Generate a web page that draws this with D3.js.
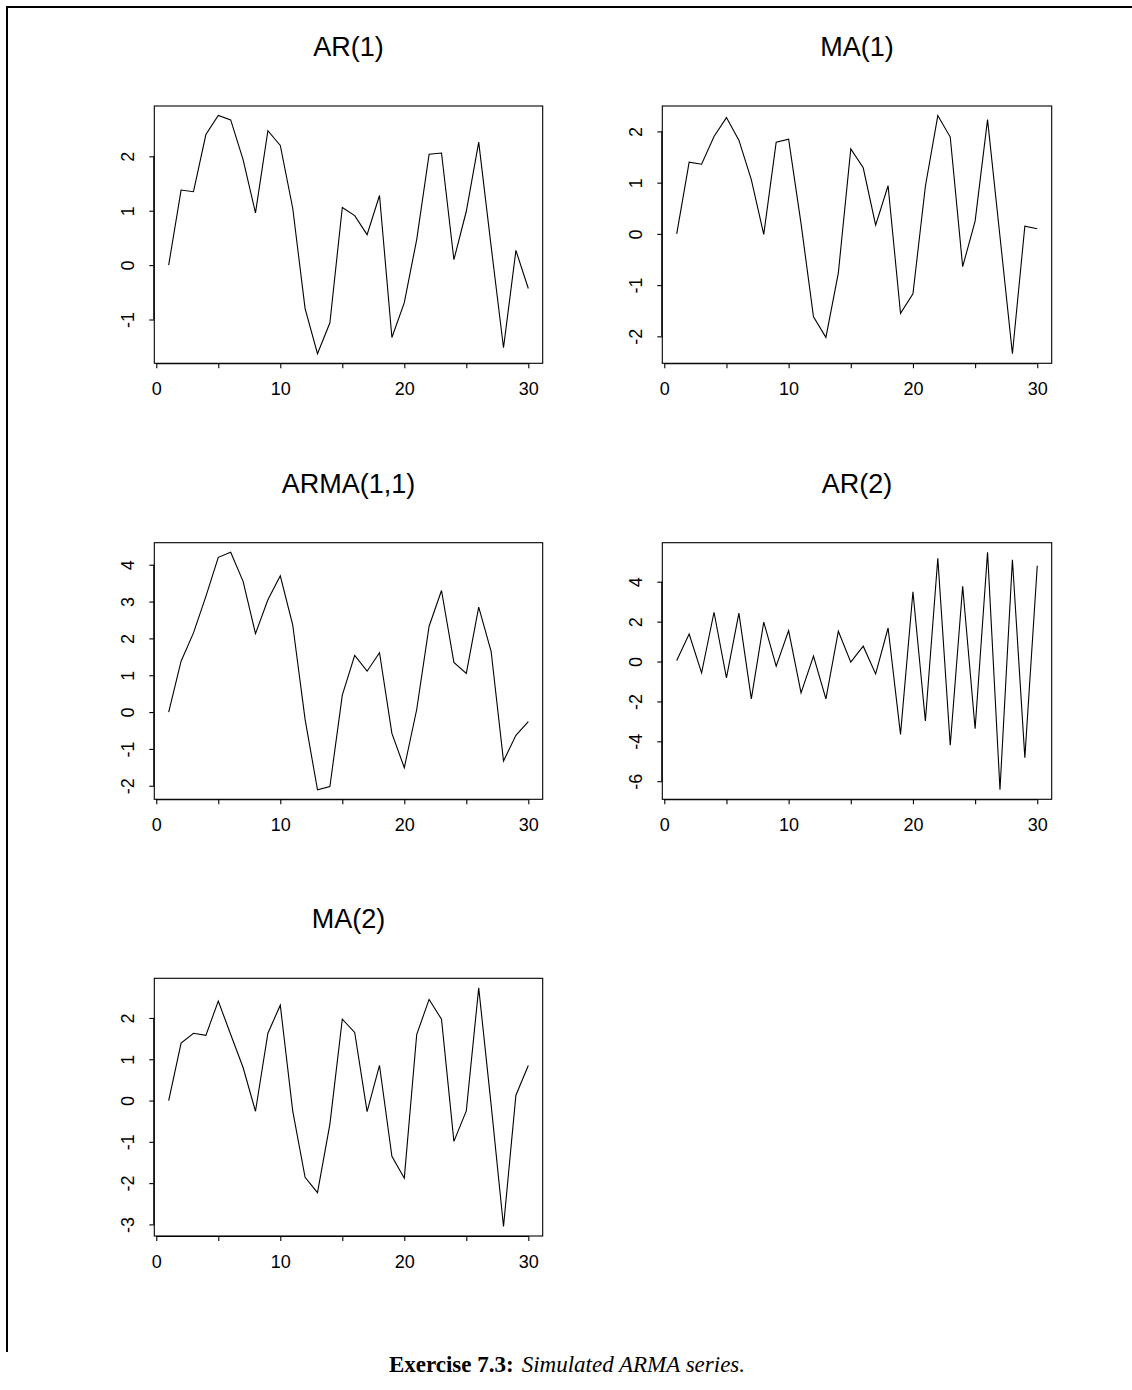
<!DOCTYPE html>
<html>
<head>
<meta charset="utf-8">
<script src="https://cdn.jsdelivr.net/npm/d3@7"></script>
<style>
  html, body { margin: 0; padding: 0; background: #fff; }
  svg { display: block; }
</style>
</head>
<body>
<script>
// Simulated series, t = 1..30
const timeIndex = d3.range(1, 31);

const ar1 = [0.00, 1.38, 1.35, 2.40, 2.75, 2.67, 1.94, 0.96, 2.47, 2.20,
             1.05, -0.80, -1.63, -1.06, 1.06, 0.91, 0.56, 1.28, -1.33, -0.69,
             0.47, 2.04, 2.06, 0.10, 0.99, 2.26, 0.35, -1.52, 0.27, -0.43];

const ma1 = [0.00, 1.40, 1.36, 1.90, 2.27, 1.83, 1.06, -0.01, 1.79, 1.85,
             0.20, -1.62, -2.02, -0.76, 1.66, 1.29, 0.17, 0.94, -1.55, -1.17,
             0.93, 2.31, 1.89, -0.64, 0.25, 2.23, -0.05, -2.34, 0.15, 0.10];

const arma11 = [0.00, 1.38, 2.15, 3.14, 4.20, 4.34, 3.55, 2.13, 3.05, 3.70,
                2.37, -0.20, -2.11, -2.02, 0.46, 1.54, 1.11, 1.61, -0.58, -1.51,
                0.07, 2.33, 3.30, 1.35, 1.05, 2.85, 1.65, -1.33, -0.63, -0.26];

const ar2 = [0.05, 1.38, -0.57, 2.47, -0.82, 2.43, -1.87, 1.98, -0.23, 1.55,
             -1.57, 0.27, -1.87, 1.52, -0.03, 0.77, -0.62, 1.68, -3.65, 3.50,
             -2.98, 5.18, -4.20, 3.77, -3.37, 5.48, -6.43, 5.10, -4.82, 4.80];

const ma2 = [0.00, 1.39, 1.63, 1.58, 2.41, 1.60, 0.80, -0.26, 1.63, 2.31,
             -0.25, -1.86, -2.23, -0.57, 1.97, 1.65, -0.27, 0.85, -1.35, -1.88,
             1.60, 2.45, 1.97, -0.99, -0.25, 2.73, -0.10, -3.05, 0.13, 0.85];

const panelTitles = ["AR(1)", "MA(1)", "ARMA(1,1)", "AR(2)", "MA(2)"];
const panelSeries = [ar1, ma1, arma11, ar2, ma2];

// Tick positions and which of them carry a label
const xTicks = [0, 5, 10, 15, 20, 25, 30];
const xTickLabels = ["0", "", "10", "", "20", "", "30"];
const yTicks = [
  [-1, 0, 1, 2],
  [-2, -1, 0, 1, 2],
  [-2, -1, 0, 1, 2, 3, 4],
  [-6, -4, -2, 0, 2, 4],
  [-3, -2, -1, 0, 1, 2]
];

const captionBold = "Exercise 7.3:";
const captionItalic = "Simulated ARMA series.";

const W = 1132, H = 1390;
const svg = d3.select("body").append("svg")
  .attr("width", W).attr("height", H)
  .attr("viewBox", `0 0 ${W} ${H}`);

svg.append("rect").attr("width", W).attr("height", H).attr("fill", "#fff");

// page frame (top and left rules)
svg.append("path")
  .attr("d", `M7,1352 V7 H${W}`)
  .attr("fill", "none").attr("stroke", "#000").attr("stroke-width", 2);

// 3 x 2 grid of plot regions
const colX = [[154.3, 542.7], [662.3, 1051.7]];
const rowY = [[106, 363.3], [542.7, 799.3], [978.3, 1236]];

const sans = "'Liberation Sans', Arial, Helvetica, sans-serif";

panelSeries.forEach((values, i) => {
  const [x0, x1] = colX[i % 2];
  const [y0, y1] = rowY[Math.floor(i / 2)];

  // R-style 4% padding of the data range
  const xr = d3.extent(timeIndex), xpad = (xr[1] - xr[0]) * 0.04;
  const yr = d3.extent(values), ypad = (yr[1] - yr[0]) * 0.04;

  const x = d3.scaleLinear().domain([xr[0] - xpad, xr[1] + xpad]).range([x0, x1]);
  const y = d3.scaleLinear().domain([yr[0] - ypad, yr[1] + ypad]).range([y1, y0]);

  const g = svg.append("g");

  // series line
  g.append("path")
    .datum(values)
    .attr("fill", "none")
    .attr("stroke", "#000")
    .attr("stroke-width", 1.1)
    .attr("stroke-linejoin", "miter")
    .attr("d", d3.line().x((d, k) => x(timeIndex[k])).y(d => y(d)));

  // frame
  g.append("rect")
    .attr("x", x0).attr("y", y0)
    .attr("width", x1 - x0).attr("height", y1 - y0)
    .attr("fill", "none").attr("stroke", "#000").attr("stroke-width", 1.1);

  // x axis
  const xAxis = d3.axisBottom(x)
    .tickValues(xTicks)
    .tickSize(5)
    .tickSizeOuter(0)
    .tickPadding(14)
    .tickFormat((d, k) => xTickLabels[k]);
  const gx = g.append("g").attr("transform", `translate(0,${y1})`).call(xAxis);
  gx.select(".domain").attr("d", `M${x(xTicks[0])},0.5H${x(xTicks[xTicks.length - 1])}`)
    .attr("stroke-width", 1.1);
  gx.selectAll(".tick line").attr("stroke-width", 1.1);
  gx.selectAll("text").attr("font-family", sans).attr("font-size", 18).attr("fill", "#000");

  // y axis with labels parallel to the axis (plain hyphen for negatives)
  const ticks = yTicks[i];
  const yAxis = d3.axisLeft(y).tickValues(ticks).tickSize(5).tickSizeOuter(0)
    .tickFormat(d => String(d));
  const gy = g.append("g").attr("transform", `translate(${x0},0)`).call(yAxis);
  gy.select(".domain").attr("d", `M-0.5,${y(ticks[0])}V${y(ticks[ticks.length - 1])}`)
    .attr("stroke-width", 1.1);
  gy.selectAll(".tick line").attr("stroke-width", 1.1);
  gy.selectAll("text")
    .attr("font-family", sans).attr("font-size", 18).attr("fill", "#000")
    .attr("x", null).attr("dy", null)
    .attr("text-anchor", "middle")
    .attr("transform", "translate(-20,0) rotate(-90)");

  // panel title
  g.append("text")
    .attr("x", (x0 + x1) / 2)
    .attr("y", y0 - 50)
    .attr("text-anchor", "middle")
    .attr("font-family", sans)
    .attr("font-size", 27)
    .attr("fill", "#000")
    .text(panelTitles[i]);
});

// caption
const cap = svg.append("text")
  .attr("x", 567).attr("y", 1372)
  .attr("text-anchor", "middle")
  .attr("font-family", "'Liberation Serif', 'DejaVu Serif', serif")
  .attr("font-size", 23)
  .attr("fill", "#000");
cap.append("tspan").attr("font-weight", "bold").text(captionBold);
cap.append("tspan").attr("font-style", "italic").attr("dx", 8).text(captionItalic);
</script>
</body>
</html>
